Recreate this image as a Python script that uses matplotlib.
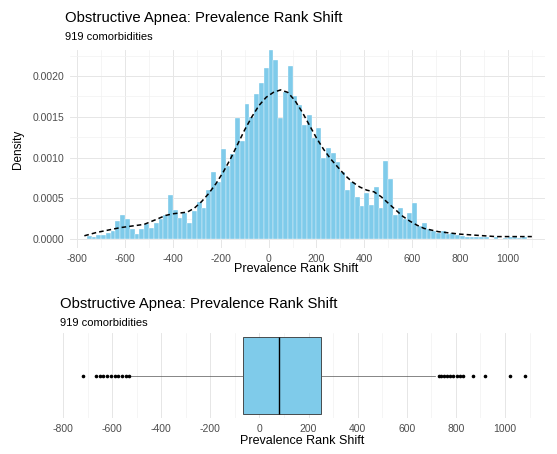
import numpy as np
import matplotlib
matplotlib.use('Agg')
import matplotlib.pyplot as plt
from matplotlib.ticker import MultipleLocator

plt.rcParams['font.family'] = ['Liberation Sans', 'DejaVu Sans']

# histogram: bin edges every 20 ranks, densities in units of 1e-4
bin_start = -760
bin_width = 20
hist_density = [
    0.4, 0.3, 0.5, 0.5, 0.8, 1.0, 2.2, 3.0, 2.4, 1.2,
    0.6, 1.2, 1.8, 1.3, 2.0, 2.4, 3.0, 5.4, 3.6, 2.6,
    3.2, 2.0, 3.4, 4.6, 3.8, 6.0, 8.2, 7.0, 11.0, 9.0,
    10.4, 14.8, 12.0, 16.6, 15.0, 17.8, 19.2, 21.0, 23.2, 22.0,
    14.8, 18.0, 21.2, 17.6, 16.4, 14.0, 15.2, 12.4, 13.6, 10.0,
    11.2, 10.6, 9.4, 8.2, 6.0, 7.0, 5.2, 4.0, 5.6, 4.2,
    6.4, 3.8, 9.6, 7.4, 3.0, 3.8, 2.4, 3.2, 4.4, 1.6,
    2.0, 1.2, 1.0, 0.8, 1.0, 0.6, 0.8, 0.5, 0.4, 0.3,
    0.3, 0.2, 0.3, 0.2, 0.0, 0.2, 0.0, 0.1, 0.3, 0.2,
    0.1, 0.2,
]

# smoothed density curve (x, density * 1e-4)
kde_x = [-770, -720, -670, -620, -570, -520, -470, -430, -400, -370,
         -340, -310, -280, -250, -220, -190, -160, -130, -100, -70,
         -40, -10, 20, 50, 80, 110, 140, 170, 200, 230,
         260, 290, 320, 350, 380, 410, 440, 470, 500, 530,
         560, 590, 620, 650, 680, 710, 740, 770, 800, 850,
         900, 950, 1000, 1050, 1100]
kde_y = [0.4, 0.8, 1.1, 1.4, 1.6, 1.8, 2.4, 2.9, 3.1, 3.2,
         3.3, 3.8, 4.6, 5.6, 6.8, 8.2, 9.8, 11.6, 13.4, 15.0,
         16.4, 17.4, 18.0, 18.3, 18.0, 17.0, 15.6, 14.0, 12.4, 11.0,
         9.8, 8.8, 7.8, 7.0, 6.4, 6.0, 5.8, 5.2, 4.4, 3.6,
         2.8, 2.2, 1.7, 1.3, 1.1, 0.9, 0.8, 0.7, 0.6, 0.5,
         0.4, 0.3, 0.3, 0.3, 0.3]

# boxplot summary
q1, med, q3 = -65, 80, 250
whisker_lo, whisker_hi = -521, 715
outliers = [-717, -665, -650, -635, -620, -605, -590, -575, -560, -545, -530,
            730, 740, 752, 765, 778, 790, 805, 818, 830, 870, 920, 1022, 1083]

x_ticks = [-800, -600, -400, -200, 0, 200, 400, 600, 800, 1000]
y_ticks = [0.0, 0.0005, 0.0010, 0.0015, 0.0020]

title = 'Obstructive Apnea: Prevalence Rank Shift'
subtitle = '919 comorbidities'

grid_major = '#e6e6e6'
grid_minor = '#f2f2f2'
tick_col = '#4d4d4d'
fill_col = '#7fcbea'

fig = plt.figure(figsize=(5.57, 4.54), dpi=100)
W, H = 557, 454

# ---- histogram + density ----
ax1 = fig.add_axes([70 / W, 1 - 248 / H, 475 / W, 198 / H])
dens = np.array(hist_density) * 1e-4
lefts = bin_start + bin_width * np.arange(len(dens))
ax1.bar(lefts, dens, width=bin_width, align='edge', color=fill_col,
        edgecolor='white', linewidth=0.25, zorder=2)
ax1.plot(kde_x, np.array(kde_y) * 1e-4, color='black', linestyle=(0, (3, 2)),
         linewidth=1.1, zorder=3)
ax1.set_xlim(-830, 1155)
ax1.set_ylim(-0.00011, 0.00232)
ax1.set_xticks(x_ticks)
ax1.set_xticklabels([str(t) for t in x_ticks])
ax1.set_yticks(y_ticks)
ax1.set_yticklabels(['%.4f' % t for t in y_ticks])
ax1.xaxis.set_minor_locator(MultipleLocator(100))
ax1.yaxis.set_minor_locator(MultipleLocator(0.00025))
ax1.grid(True, which='major', color=grid_major, linewidth=0.7, zorder=0)
ax1.grid(True, which='minor', color=grid_minor, linewidth=0.5, zorder=0)
ax1.set_axisbelow(True)
ax1.tick_params(which='both', length=0, labelsize=7.5, labelcolor=tick_col, pad=4)
for s in ax1.spines.values():
    s.set_visible(False)
ax1.set_ylabel('Density', fontsize=8.5, labelpad=6)
fig.text(296 / W, 1 - 269 / H, 'Prevalence Rank Shift', fontsize=9,
         ha='center', va='center')
fig.text(65 / W, 1 - 18 / H, title, fontsize=10.7, va='center')
fig.text(65 / W, 1 - 37 / H, subtitle, fontsize=8, va='center')

# ---- boxplot ----
ax2 = fig.add_axes([60 / W, 1 - 418 / H, 486 / W, 85 / H])
stats = [dict(med=med, q1=q1, q3=q3, whislo=whisker_lo, whishi=whisker_hi,
              fliers=outliers)]
ax2.bxp(stats, positions=[0], widths=0.75, vert=False, patch_artist=True,
        showcaps=False,
        boxprops=dict(facecolor=fill_col, edgecolor='#333333', linewidth=0.6),
        medianprops=dict(color='black', linewidth=1.0),
        whiskerprops=dict(color='#555555', linewidth=0.5),
        flierprops=dict(marker='o', markersize=1.6, markerfacecolor='black',
                        markeredgecolor='black'))
ax2.set_xlim(-812, 1167)
ax2.set_ylim(-0.4125, 0.4125)
ax2.set_xticks(x_ticks)
ax2.set_xticklabels([str(t) for t in x_ticks])
ax2.set_yticks([])
ax2.xaxis.set_minor_locator(MultipleLocator(100))
ax2.grid(True, axis='x', which='major', color=grid_major, linewidth=0.7)
ax2.grid(True, axis='x', which='minor', color=grid_minor, linewidth=0.5)
ax2.set_axisbelow(True)
ax2.tick_params(which='both', length=0, labelsize=7.5, labelcolor=tick_col, pad=4)
for s in ax2.spines.values():
    s.set_visible(False)
fig.text(302 / W, 1 - 441 / H, 'Prevalence Rank Shift', fontsize=9,
         ha='center', va='center')
fig.text(60 / W, 1 - 304 / H, title, fontsize=10.7, va='center')
fig.text(60 / W, 1 - 323 / H, subtitle, fontsize=8, va='center')

fig.savefig('out.png', dpi=100)
